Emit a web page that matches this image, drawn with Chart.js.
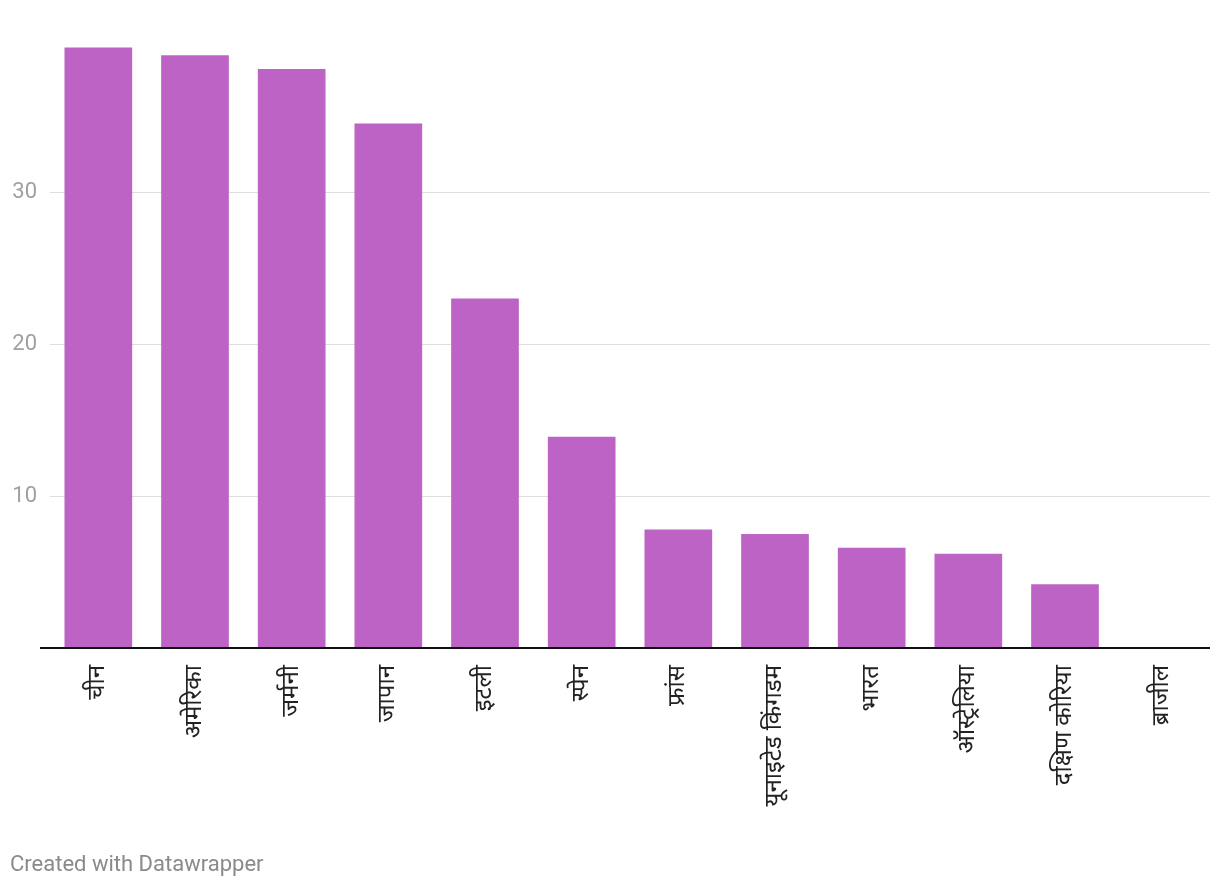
<!DOCTYPE html>
<html>
<head>
<meta charset="utf-8">
<script src="https://cdn.jsdelivr.net/npm/chart.js@4"></script>
<style>
  html, body { margin: 0; padding: 0; background: #fff; }
  #wrap { position: relative; width: 1220px; height: 888px; }
  #credit { position: absolute; left: 10px; top: 851px; font: 22px Roboto, sans-serif; color: #8a8a8a; }
</style>
</head>
<body>
<div id="wrap">
  <canvas id="myChart" width="1220" height="888"></canvas>
  <div id="credit">Created with Datawrapper</div>
</div>
<script>
// countries + values
var countries = ["चीन", "अमेरिका", "जर्मनी", "जापान", "इटली", "स्पेन", "फ्रांस", "यूनाइटेड किंगडम", "भारत", "ऑस्ट्रेलिया", "दक्षिण कोरिया", "ब्राजील"];
var values = [39.5, 39.0, 38.1, 34.5, 23.0, 13.9, 7.8, 7.5, 6.6, 6.2, 4.2, 0];
var yTicks = [10, 20, 30];

// black baseline, starts a bit left of the grid
var baseline = {
  id: 'baseline',
  afterDatasetsDraw: function(chart) {
    var c = chart.ctx;
    var y = chart.scales.y.getPixelForValue(0);
    c.save();
    c.strokeStyle = '#111';
    c.lineWidth = 2;
    c.beginPath();
    c.moveTo(40, y);
    c.lineTo(chart.chartArea.right, y);
    c.stroke();
    c.restore();
  }
};

var ctx = document.getElementById('myChart').getContext('2d');
var myChart = new Chart(ctx, {
  type: 'bar',
  data: {
    labels: countries,
    datasets: [{
      data: values,
      backgroundColor: '#be63c6',
      barPercentage: 0.7,
      categoryPercentage: 1
    }]
  },
  options: {
    responsive: false,
    animation: false,
    layout: { padding: { top: 40, right: 10, left: 0, bottom: 0 } },
    plugins: { legend: { display: false }, tooltip: { enabled: false } },
    scales: {
      y: {
        min: 0,
        max: 40,
        afterFit: function(s) { s.width = 50; },
        afterBuildTicks: function(s) {
          s.ticks = [0].concat(yTicks, [40]).map(function(v) { return { value: v }; });
        },
        border: { display: false },
        grid: {
          drawTicks: false,
          lineWidth: 1,
          color: function(c) {
            return yTicks.indexOf(c.tick.value) >= 0 ? '#dedede' : 'rgba(0,0,0,0)';
          }
        },
        ticks: {
          padding: 13,
          color: '#a0a0a0',
          font: { family: 'Roboto', size: 22 },
          callback: function(v) { return yTicks.indexOf(v) >= 0 ? v : ''; }
        }
      },
      x: {
        afterFit: function(s) { s.height = 240; },
        border: { display: false },
        grid: { display: false },
        ticks: {
          minRotation: 90,
          maxRotation: 90,
          autoSkip: false,
          padding: 9,
          color: '#222',
          font: { family: "Roboto, 'Noto Sans'", size: 24 }
        }
      }
    }
  },
  plugins: [baseline]
});
</script>
</body>
</html>
